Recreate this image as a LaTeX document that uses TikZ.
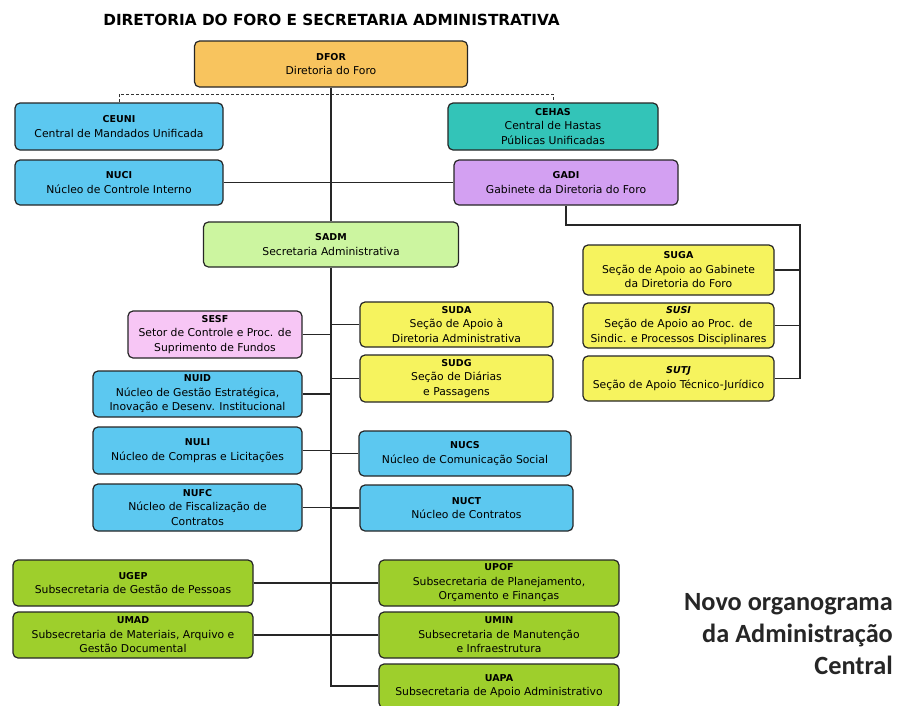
\documentclass[tikz,border=0pt]{standalone}
\usepackage{fontspec}
\setmainfont{DejaVu Sans}
\newfontfamily\carlito{Carlito}
\usetikzlibrary{calc}

\definecolor{laranja}{HTML}{F8C45E}
\definecolor{azul}{HTML}{5CC8F0}
\definecolor{turquesa}{HTML}{33C4B8}
\definecolor{lilas}{HTML}{D3A0F2}
\definecolor{verdeclaro}{HTML}{CCF5A0}
\definecolor{rosa}{HTML}{F7C6F5}
\definecolor{amarelo}{HTML}{F6F35E}
\definecolor{verde}{HTML}{9ECF2C}
\definecolor{cinza}{HTML}{262626}

\newcommand{\sigla}[1]{{\fontsize{9.5}{14.5}\selectfont\bfseries #1}}

\tikzset{
  caixa/.style={draw=black!85, line width=1.2pt, rounded corners=5pt, align=center,
    inner sep=1pt, font=\fontsize{10.8}{14.5}\selectfont},
  liga/.style={line width=1.2pt, draw=black!85},
  tracejado/.style={line width=0.9pt, draw=black!80, dash pattern=on 3pt off 2pt},
}

\begin{document}
\begin{tikzpicture}[x=1pt, y=-1pt]
    \path[fill=white, use as bounding box] (0,0) rectangle (911,705);

    \node[anchor=base, font=\fontsize{15.3}{17}\selectfont\bfseries] (titulo) at (331.5,25) {DIRETORIA DO FORO E SECRETARIA ADMINISTRATIVA};

    \node[caixa, fill=laranja, minimum width=273pt, minimum height=46pt] (dfor) at (331,64) {\sigla{DFOR}\\Diretoria do Foro};
    \node[caixa, fill=azul, minimum width=208pt, minimum height=47pt] (ceuni) at (119,126.5) {\sigla{CEUNI}\\Central de Mandados Unificada};
    \node[caixa, fill=turquesa, minimum width=210pt, minimum height=47pt] (cehas) at (553,126.5) {\sigla{CEHAS}\\Central de Hastas\\Públicas Unificadas};
    \node[caixa, fill=azul, minimum width=208pt, minimum height=45pt] (nuci) at (119,182.5) {\sigla{NUCI}\\Núcleo de Controle Interno};
    \node[caixa, fill=lilas, minimum width=224pt, minimum height=45pt] (gadi) at (566,182.5) {\sigla{GADI}\\Gabinete da Diretoria do Foro};
    \node[caixa, fill=verdeclaro, minimum width=255pt, minimum height=45pt] (sadm) at (331,244.5) {\sigla{SADM}\\Secretaria Administrativa};

    \node[caixa, fill=amarelo, minimum width=191pt, minimum height=50pt] (suga) at (678.5,270) {\sigla{SUGA}\\Seção de Apoio ao Gabinete\\da Diretoria do Foro};
    \node[caixa, fill=amarelo, minimum width=191pt, minimum height=45pt] (susi) at (678.5,325.5) {\sigla{\itshape SUSI}\\Seção de Apoio ao Proc. de\\Sindic. e Processos Disciplinares};
    \node[caixa, fill=amarelo, minimum width=191pt, minimum height=45pt] (sutj) at (678.5,378.5) {\sigla{\itshape SUTJ}\\Seção de Apoio Técnico-Jurídico};

    \node[caixa, fill=rosa, minimum width=174pt, minimum height=47pt] (sesf) at (215,334.5) {\sigla{SESF}\\Setor de Controle e Proc. de\\Suprimento de Fundos};
    \node[caixa, fill=amarelo, minimum width=193pt, minimum height=45pt] (suda) at (456.5,324.5) {\sigla{SUDA}\\Seção de Apoio à\\Diretoria Administrativa};
    \node[caixa, fill=amarelo, minimum width=193pt, minimum height=47pt] (sudg) at (456.5,378.5) {\sigla{SUDG}\\Seção de Diárias\\e Passagens};

    \node[caixa, fill=azul, minimum width=209pt, minimum height=46pt] (nuid) at (197.5,394) {\sigla{NUID}\\Núcleo de Gestão Estratégica,\\Inovação e Desenv. Institucional};
    \node[caixa, fill=azul, minimum width=209pt, minimum height=47pt] (nuli) at (197.5,450.5) {\sigla{NULI}\\Núcleo de Compras e Licitações};
    \node[caixa, fill=azul, minimum width=209pt, minimum height=47pt] (nufc) at (197.5,507.5) {\sigla{NUFC}\\Núcleo de Fiscalização de\\Contratos};
    \node[caixa, fill=azul, minimum width=212pt, minimum height=45pt] (nucs) at (465,453.5) {\sigla{NUCS}\\Núcleo de Comunicação Social};
    \node[caixa, fill=azul, minimum width=213pt, minimum height=46pt] (nuct) at (466.5,508) {\sigla{NUCT}\\Núcleo de Contratos};

    \node[caixa, fill=verde, minimum width=240pt, minimum height=46pt] (ugep) at (133,583) {\sigla{UGEP}\\Subsecretaria de Gestão de Pessoas};
    \node[caixa, fill=verde, minimum width=240pt, minimum height=46pt] (umad) at (133,635) {\sigla{UMAD}\\Subsecretaria de Materiais, Arquivo e\\Gestão Documental};
    \node[caixa, fill=verde, minimum width=240pt, minimum height=46pt] (upof) at (499,583) {\sigla{UPOF}\\Subsecretaria de Planejamento,\\Orçamento e Finanças};
    \node[caixa, fill=verde, minimum width=240pt, minimum height=46pt] (umin) at (499,635) {\sigla{UMIN}\\Subsecretaria de Manutenção\\e Infraestrutura};
    \node[caixa, fill=verde, minimum width=240pt, minimum height=44pt] (uapa) at (499,686) {\sigla{UAPA}\\Subsecretaria de Apoio Administrativo};

    \node[anchor=north east, align=right, inner sep=0pt, text=cinza, font=\carlito\fontsize{26.3}{32}\selectfont\bfseries] (legenda) at (893,593) {Novo organograma\\da Administração\\Central};

    \coordinate (canto) at (800,225);

    \draw[tracejado] (ceuni.north) -- ++(0,-8) -| (cehas.north);
    \draw[liga] (dfor.south) -- (sadm.north);
    \draw[liga] (sadm.south) |- (uapa.west);
    \draw[liga] (nuci.east) -- (gadi.west);
    \draw[liga] (gadi.south) |- (canto) |- (sutj.east);
    \draw[liga] (suga.east) -- (suga.east -| canto);
    \draw[liga] (susi.east) -- (susi.east -| canto);
    \draw[liga] (sesf.east) -- (sesf.east -| sadm.south);
    \draw[liga] (suda.west) -- (suda.west -| sadm.south);
    \draw[liga] (sudg.west) -- (sudg.west -| sadm.south);
    \draw[liga] (nuid.east) -- (nuid.east -| sadm.south);
    \draw[liga] (nuli.east) -- (nuli.east -| sadm.south);
    \draw[liga] (nufc.east) -- (nufc.east -| sadm.south);
    \draw[liga] (nucs.west) -- (nucs.west -| sadm.south);
    \draw[liga] (nuct.west) -- (nuct.west -| sadm.south);
    \draw[liga] (ugep.east) -- (upof.west);
    \draw[liga] (umad.east) -- (umin.west);
\end{tikzpicture}
\end{document}
